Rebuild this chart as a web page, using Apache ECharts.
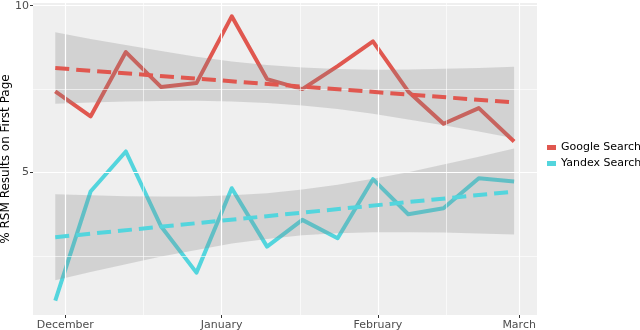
<!DOCTYPE html>
<html>
<head>
<meta charset="utf-8">
<script src="https://cdn.jsdelivr.net/npm/echarts@6/dist/echarts.min.js"></script>
<style>
  html, body { margin: 0; padding: 0; background: #fff; }
  #chart { width: 640px; height: 330px; }
</style>
</head>
<body>
<div id="chart"></div>
<script>
// weekly samples
const weeks = ['2016-11-29', '2016-12-06', '2016-12-13', '2016-12-20', '2016-12-27', '2017-01-03', '2017-01-10',
  '2017-01-17', '2017-01-24', '2017-01-31', '2017-02-07', '2017-02-14', '2017-02-21', '2017-02-28']
const google = [7.43, 6.68, 8.61, 7.56, 7.68, 9.68, 7.80, 7.50, 8.19, 8.93, 7.43, 6.46, 6.93, 5.93]
const yandex = [1.16, 4.43, 5.63, 3.38, 2.00, 4.53, 2.78, 3.58, 3.03, 4.80, 3.75, 3.93, 4.83, 4.73]

// linear trend (first week, last week) and its confidence band
const googleTrend = [8.13, 7.10]
const yandexTrend = [3.06, 4.43]
const googleHigh = [9.20, 9.00, 8.82, 8.64, 8.47, 8.33, 8.22, 8.15, 8.10, 8.08, 8.09, 8.11, 8.13, 8.17]
const googleLow = [7.06, 7.10, 7.13, 7.14, 7.15, 7.13, 7.08, 7.01, 6.90, 6.76, 6.59, 6.42, 6.23, 6.03]
const yandexHigh = [4.35, 4.32, 4.29, 4.28, 4.28, 4.32, 4.38, 4.49, 4.63, 4.81, 5.01, 5.24, 5.47, 5.72]
const yandexLow = [1.77, 2.02, 2.25, 2.48, 2.68, 2.87, 3.01, 3.12, 3.18, 3.21, 3.21, 3.20, 3.17, 3.14]

const monthTicks = ['2016-12-01', '2017-01-01', '2017-02-01', '2017-03-01']
const monthNames = ['December', 'January', 'February', 'March']
const monthMinor = ['2016-12-16T12:00', '2017-01-16T12:00', '2017-02-14T12:00']
const yTicks = [5, 10]
const yMinor = [2.5, 7.5]

const RED = '#e0574f'
const CYAN = '#53d5dd'
const FONT = 'DejaVu Sans'

const t = function (s) {
  let p = s.split(/[-T:]/).map(Number)
  return new Date(p[0], p[1] - 1, p[2], p[3] || 0, p[4] || 0).getTime()
}
const monthVals = monthTicks.map(t)

const pairs = function (vals) {
  return weeks.map((w, i) => [t(w), vals[i]])
}

const trend = function (name, vals, color) {
  return {
    name: name, type: 'line', z: 5, silent: true, symbol: 'none',
    data: [[t(weeks[0]), vals[0]], [t(weeks[weeks.length - 1]), vals[1]]],
    lineStyle: {color: color, width: 4, type: [14, 7]}
  }
}

const band = function (name, low, high) {
  return {
    name: name, type: 'custom', z: 4, silent: true,
    data: weeks.map((w, i) => [t(w), low[i], high[i]]),
    encode: {x: 0, y: [1, 2]},
    renderItem: function (params, api) {
      if (params.dataIndex !== 0) return null
      let top = weeks.map((w, i) => api.coord([t(w), high[i]]))
      let bottom = weeks.map((w, i) => api.coord([t(w), low[i]])).reverse()
      return {type: 'polygon', shape: {points: top.concat(bottom)}, style: {fill: 'rgba(138,138,138,0.28)'}}
    }
  }
}

const gridLines = []
yTicks.forEach(v => gridLines.push({yAxis: v, lineStyle: {width: 1.2}}))
yMinor.forEach(v => gridLines.push({yAxis: v, lineStyle: {width: 0.6}}))
monthTicks.forEach(m => gridLines.push({xAxis: t(m), lineStyle: {width: 1.2}}))
monthMinor.forEach(m => gridLines.push({xAxis: t(m), lineStyle: {width: 0.6}}))

const option = {
  animation: false,
  grid: {left: 33, right: 103, top: 3, bottom: 15, show: true, backgroundColor: '#efefef', borderWidth: 0, outerBoundsMode: 'none'},
  legend: {
    data: ['Google Search', 'Yandex Search'],
    orient: 'vertical', left: 547, top: 142, padding: 0,
    icon: 'rect', itemWidth: 9, itemHeight: 5, itemGap: 5,
    selectedMode: false,
    textStyle: {color: '#000', fontSize: 11, fontFamily: FONT}
  },
  xAxis: {
    type: 'value',
    min: t('2016-11-24T14:00'), max: t('2017-03-04T13:00'),
    axisLine: {show: false},
    splitLine: {show: false},
    axisTick: {show: true, customValues: monthVals, length: 3, lineStyle: {color: '#333'}},
    axisLabel: {
      customValues: monthVals, margin: 5,
      color: '#4d4d4d', fontSize: 11, fontFamily: FONT,
      formatter: function (v) {
        let i = monthVals.indexOf(v)
        return i >= 0 ? monthNames[i] : ''
      }
    }
  },
  yAxis: {
    type: 'value', min: 0.73, max: 10.08,
    name: '% RSM Results on First Page', nameLocation: 'middle', nameRotate: 90, nameGap: 21,
    nameMoveOverlap: false,
    nameTextStyle: {color: '#000', fontSize: 12, fontFamily: FONT},
    axisLine: {show: false},
    splitLine: {show: false},
    axisTick: {show: true, customValues: yTicks, length: 3, lineStyle: {color: '#333'}},
    axisLabel: {customValues: yTicks, margin: 4, color: '#4d4d4d', fontSize: 11, fontFamily: FONT}
  },
  series: [
    {
      name: 'grid', type: 'line', z: 1, silent: true, data: [],
      markLine: {silent: true, symbol: 'none', label: {show: false}, animation: false,
        lineStyle: {color: '#fff', type: 'solid'}, emphasis: {disabled: true}, data: gridLines}
    },
    {
      name: 'Google Search', type: 'line', z: 3, symbol: 'none', data: pairs(google),
      itemStyle: {color: RED}, lineStyle: {color: RED, width: 4, join: 'round'}
    },
    {
      name: 'Yandex Search', type: 'line', z: 3, symbol: 'none', data: pairs(yandex),
      itemStyle: {color: CYAN}, lineStyle: {color: CYAN, width: 4, join: 'round'}
    },
    band('googleBand', googleLow, googleHigh),
    band('yandexBand', yandexLow, yandexHigh),
    trend('googleTrend', googleTrend, RED),
    trend('yandexTrend', yandexTrend, CYAN)
  ]
}
echarts.init(document.getElementById('chart')).setOption(option)
</script>
</body>
</html>
